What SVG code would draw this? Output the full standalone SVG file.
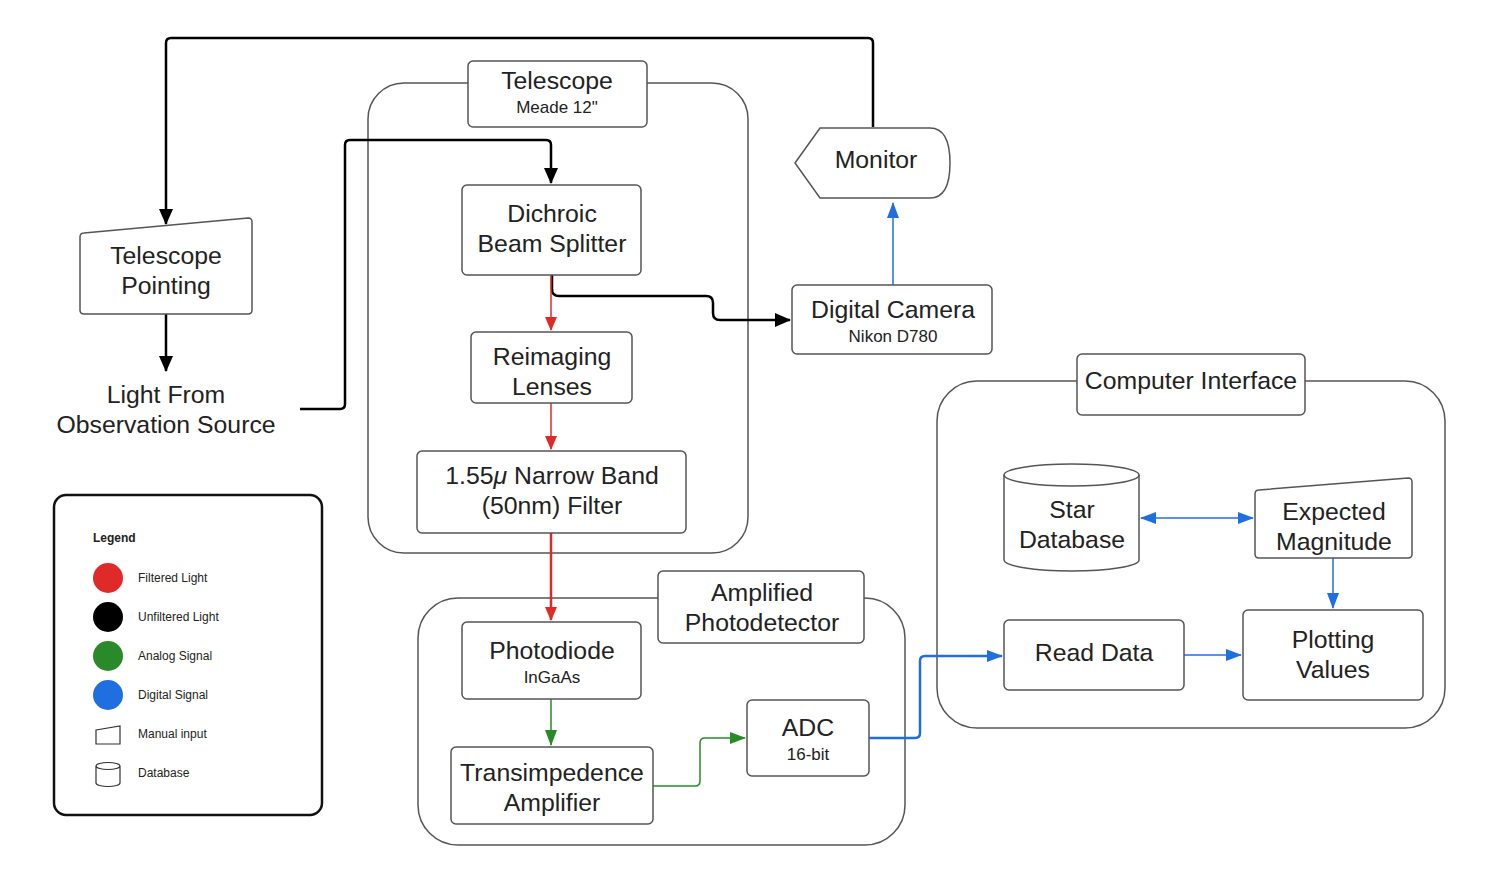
<svg xmlns="http://www.w3.org/2000/svg" width="1497" height="881" viewBox="0 0 1497 881">
<style>
.box{fill:#fff;stroke:#555;stroke-width:1.5}
.cont{fill:none;stroke:#555;stroke-width:1.5}
.t{font-family:"Liberation Sans",Arial,sans-serif;font-size:24.8px;fill:#222;text-anchor:middle}
.s{font-family:"Liberation Sans",Arial,sans-serif;font-size:17px;fill:#222;text-anchor:middle}
.l{font-family:"Liberation Sans",Arial,sans-serif;font-size:12px;fill:#222}
.k{fill:none;stroke:#000;stroke-width:2.5;stroke-linejoin:round}
.r{fill:none;stroke:#e02a2a;stroke-width:1.5}
.g{fill:none;stroke:#2a8a2a;stroke-width:1.5}
.b{fill:none;stroke:#1f6fe0;stroke-width:1.5}
</style>
<defs>
<marker id="ak" markerUnits="userSpaceOnUse" markerWidth="16" markerHeight="14" refX="15" refY="7" orient="auto"><path d="M0,0 L16,7 L0,14 z" fill="#000"/></marker>
<marker id="ar" markerUnits="userSpaceOnUse" markerWidth="14" markerHeight="12" refX="13" refY="6" orient="auto"><path d="M0,0 L14,6 L0,12 z" fill="#e02a2a"/></marker>
<marker id="ag" markerUnits="userSpaceOnUse" markerWidth="16" markerHeight="12" refX="15" refY="6" orient="auto"><path d="M0,0 L16,6 L0,12 z" fill="#2a8a2a"/></marker>
<marker id="ab" markerUnits="userSpaceOnUse" markerWidth="16" markerHeight="12" refX="15" refY="6" orient="auto"><path d="M0,0 L16,6 L0,12 z" fill="#1f6fe0"/></marker>
<marker id="abs" markerUnits="userSpaceOnUse" markerWidth="16" markerHeight="12" refX="1" refY="6" orient="auto"><path d="M16,0 L0,6 L16,12 z" fill="#1f6fe0"/></marker>
</defs>

<g id="telescope-container">
<rect class="cont" x="368" y="83" width="380" height="470" rx="36"/>
</g>
<g id="amplified-container">
<rect class="cont" x="418" y="598" width="487" height="247" rx="40"/>
</g>
<g id="computer-container">
<rect class="cont" x="937" y="381" width="508" height="347" rx="40"/>
</g>

<g id="connectors">
<path class="k" d="M873,127 V43 Q873,38 868,38 H171 Q166,38 166,43 V224" marker-end="url(#ak)"/>
<path class="k" d="M166,314 V371" marker-end="url(#ak)"/>
<path class="k" d="M300,409 H340 Q345,409 345,404 V145 Q345,140 350,140 H546 Q551,140 551,145 V183" marker-end="url(#ak)"/>
<path class="k" d="M552,275 V289 Q552,296 559,296 H706 Q713,296 713,303 V313 Q713,320 720,320 H790" marker-end="url(#ak)"/>
<path class="b" d="M893,285 V203" marker-end="url(#ab)"/>
<path class="r" d="M551,276 V330" marker-end="url(#ar)"/>
<path class="r" d="M551,403 V449" marker-end="url(#ar)"/>
<path class="r" d="M551,533 V620" style="stroke-width:2.5" marker-end="url(#ar)"/>
<path class="g" d="M551,699 V745" marker-end="url(#ag)"/>
<path class="g" d="M653,786 H695 Q700,786 700,781 V743 Q700,738 705,738 H745" marker-end="url(#ag)"/>
<path class="b" d="M869,738 H915 Q920,738 920,733 V661 Q920,656 925,656 H1002" style="stroke-width:2.5" marker-end="url(#ab)"/>
<path class="b" d="M1141,518 H1253" marker-start="url(#abs)" marker-end="url(#ab)"/>
<path class="b" d="M1333,558 V608" marker-end="url(#ab)"/>
<path class="b" d="M1184,655 H1241" marker-end="url(#ab)"/>
</g>

<g id="telescope-label">
<rect class="box" x="468" y="61" width="179" height="66" rx="5"/>
<text class="t" x="557" y="89">Telescope</text>
<text class="s" x="557" y="113">Meade 12"</text>
</g>
<g id="dichroic">
<rect class="box" x="462" y="185" width="179" height="90" rx="5"/>
<text class="t" x="552" y="222">Dichroic</text>
<text class="t" x="552" y="252">Beam Splitter</text>
</g>
<g id="reimaging">
<rect class="box" x="471" y="332" width="161" height="71" rx="5"/>
<text class="t" x="552" y="365">Reimaging</text>
<text class="t" x="552" y="395">Lenses</text>
</g>
<g id="filter">
<rect class="box" x="417" y="451" width="269" height="82" rx="5"/>
<text class="t" x="552" y="484">1.55<tspan font-style="italic">μ</tspan> Narrow Band</text>
<text class="t" x="552" y="514">(50nm) Filter</text>
</g>
<g id="telescope-pointing">
<path class="box" d="M84,233 L248,218 Q252,218 252,222 V310 Q252,314 248,314 H84 Q80,314 80,310 V237 Q80,233 84,233 z"/>
<text class="t" x="166" y="264">Telescope</text>
<text class="t" x="166" y="294">Pointing</text>
</g>
<g id="light-source">
<text class="t" x="166" y="403">Light From</text>
<text class="t" x="166" y="433">Observation Source</text>
</g>
<g id="monitor">
<path class="box" d="M795,163 L820,128 H930 Q950,128 950,163 Q950,198 930,198 H820 z"/>
<text class="t" x="876" y="168">Monitor</text>
</g>
<g id="digital-camera">
<rect class="box" x="792" y="285" width="200" height="69" rx="5"/>
<text class="t" x="893" y="318">Digital Camera</text>
<text class="s" x="893" y="342">Nikon D780</text>
</g>
<g id="amplified-label">
<rect class="box" x="658" y="571" width="206" height="72" rx="5"/>
<text class="t" x="762" y="601">Amplified</text>
<text class="t" x="762" y="631">Photodetector</text>
</g>
<g id="photodiode">
<rect class="box" x="462" y="622" width="179" height="77" rx="5"/>
<text class="t" x="552" y="659">Photodiode</text>
<text class="s" x="552" y="683">InGaAs</text>
</g>
<g id="transimpedence">
<rect class="box" x="451" y="747" width="202" height="77" rx="5"/>
<text class="t" x="552" y="781">Transimpedence</text>
<text class="t" x="552" y="811">Amplifier</text>
</g>
<g id="adc">
<rect class="box" x="747" y="700" width="122" height="76" rx="5"/>
<text class="t" x="808" y="736">ADC</text>
<text class="s" x="808" y="760">16-bit</text>
</g>
<g id="computer-label">
<rect class="box" x="1077" y="354" width="228" height="61" rx="5"/>
<text class="t" x="1191" y="389">Computer Interface</text>
</g>
<g id="star-database">
<path class="box" d="M1004,475 V560 A67.5,11 0 0 0 1139,560 V475 A67.5,11 0 0 0 1004,475 z"/>
<path class="cont" d="M1004,475 A67.5,11 0 0 0 1139,475"/>
<text class="t" x="1072" y="518">Star</text>
<text class="t" x="1072" y="548">Database</text>
</g>
<g id="expected-magnitude">
<path class="box" d="M1259,490 L1408,478 Q1412,478 1412,482 V554 Q1412,558 1408,558 H1259 Q1255,558 1255,554 V494 Q1255,490 1259,490 z"/>
<text class="t" x="1334" y="520">Expected</text>
<text class="t" x="1334" y="550">Magnitude</text>
</g>
<g id="read-data">
<rect class="box" x="1004" y="620" width="180" height="70" rx="5"/>
<text class="t" x="1094" y="661">Read Data</text>
</g>
<g id="plotting-values">
<rect class="box" x="1243" y="610" width="180" height="90" rx="5"/>
<text class="t" x="1333" y="648">Plotting</text>
<text class="t" x="1333" y="678">Values</text>
</g>

<g id="legend">
<rect x="54" y="495" width="268" height="320" rx="12" fill="#fff" stroke="#111" stroke-width="2.5"/>
<text class="l" x="93" y="542" font-weight="bold">Legend</text>
<circle cx="108" cy="578" r="15" fill="#e02a2a"/>
<text class="l" x="138" y="582">Filtered Light</text>
<circle cx="108" cy="617" r="15" fill="#000"/>
<text class="l" x="138" y="621">Unfiltered Light</text>
<circle cx="108" cy="656" r="15" fill="#2a8a2a"/>
<text class="l" x="138" y="660">Analog Signal</text>
<circle cx="108" cy="695" r="15" fill="#1f6fe0"/>
<text class="l" x="138" y="699">Digital Signal</text>
<path d="M96,730 L120,726 V744 H96 z" fill="#fff" stroke="#333" stroke-width="1.2"/>
<text class="l" x="138" y="738">Manual input</text>
<path d="M96,766 V783 A12,3.5 0 0 0 120,783 V766 A12,3.5 0 0 0 96,766 z M96,766 A12,3.5 0 0 0 120,766" fill="#fff" stroke="#333" stroke-width="1.2"/>
<text class="l" x="138" y="777">Database</text>
</g>
</svg>
